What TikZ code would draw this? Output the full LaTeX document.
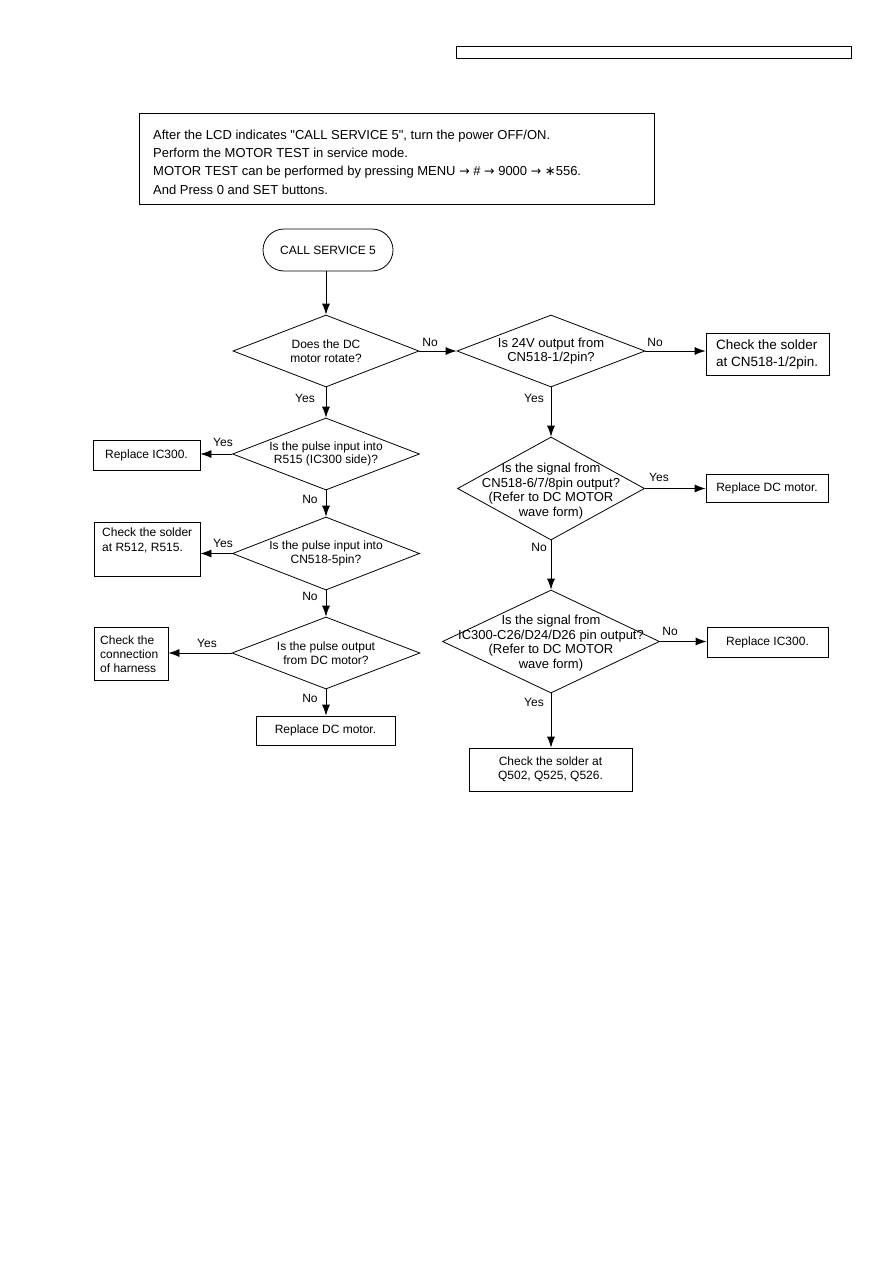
\documentclass[tikz,border=0pt]{standalone}
\usepackage{fontspec}
\setmainfont{Liberation Sans}
\newfontfamily\dejavu{DejaVu Sans}
\usetikzlibrary{shapes.geometric,arrows.meta}
\newcommand{\myarrow}{{\dejavu\fontsize{12.5}{13}\selectfont →}}
\begin{document}
\begin{tikzpicture}[x=1pt,y=-1pt,
  dia/.style={draw, diamond, inner sep=0pt, line width=0.8pt},
  box/.style={draw, rectangle, inner sep=0pt, line width=0.8pt},
  term/.style={draw, rectangle, rounded corners=21pt, inner sep=0pt, line width=0.8pt, minimum width=130pt, minimum height=42pt, font=\fontsize{12}{14}\selectfont},
  ftwelve/.style={font=\fontsize{12}{13.5}\selectfont, align=center, inner sep=0pt},
  fthirteen/.style={font=\fontsize{13}{14.5}\selectfont, align=center, inner sep=0pt},
  lbl/.style={font=\fontsize{12}{14}\selectfont, inner sep=0pt},
  info/.style={font=\fontsize{13}{18}\selectfont, inner sep=0pt, anchor=base west},
  arr/.style={-{Latex[length=11pt,width=8pt]}, line width=0.8pt}
]
\useasboundingbox (0,0) rectangle (893,1263);

% header bar
\node[box, minimum width=395pt, minimum height=12pt] (hdr) at (653.5,52) {};

% information box
\node[box, minimum width=515pt, minimum height=91pt] (infobox) at (396.5,158.5) {};
\node[info] (t1) at (153,139) {After the LCD indicates \textquotedbl CALL SERVICE 5\textquotedbl, turn the power OFF/ON.};
\node[info] (t2) at (153,157.3) {Perform the MOTOR TEST in service mode.};
\node[info] (t3) at (153,175.7) {MOTOR TEST can be performed by pressing MENU \myarrow{} \# \myarrow{} 9000 \myarrow{} {\dejavu ∗}556.};
\node[info] (t4) at (153,194) {And Press 0 and SET buttons.};

% start
\node[term] (start) at (328,250) {CALL SERVICE 5};

% left column
\node[dia, minimum width=186pt, minimum height=72pt] (d1) at (326,351) {};
\node[ftwelve] at (d1) {Does the DC\\motor rotate?};

\node[dia, minimum width=187pt, minimum height=72pt] (d5) at (326,454) {};
\node[ftwelve] at (d5) {Is the pulse input into\\R515 (IC300 side)?};

\node[dia, minimum width=187pt, minimum height=73pt] (d6) at (326,553.5) {};
\node[ftwelve] at (d6) {Is the pulse input into\\CN518-5pin?};

\node[dia, minimum width=188pt, minimum height=72pt] (d7) at (326,653) {};
\node[ftwelve] at (d7) {Is the pulse output\\from DC motor?};

\node[box, minimum width=107pt, minimum height=30pt, ftwelve] (ric2) at (146.5,455) {Replace IC300.};
\node[box, minimum width=106pt, minimum height=54pt] (cs2) at (147,549) {};
\node[ftwelve, align=left, anchor=north west, font=\fontsize{12}{15}\selectfont] at (102,528) {Check the solder\\at R512, R515.};
\node[box, minimum width=74pt, minimum height=53pt] (har) at (131,653.5) {};
\node[ftwelve, align=left, anchor=west, font=\fontsize{12}{14}\selectfont] at (100,654) {Check the\\connection\\of harness};
\node[box, minimum width=139pt, minimum height=29pt, ftwelve] (rdm2) at (325.5,730.5) {Replace DC motor.};

% right column
\node[dia, minimum width=188pt, minimum height=72pt] (d2) at (551,351) {};
\node[fthirteen] at (d2) {Is 24V output from\\CN518-1/2pin?};

\node[dia, minimum width=187pt, minimum height=103pt] (d3) at (551,488.5) {};
\node[fthirteen] at (551,491) {Is the signal from\\CN518-6/7/8pin output?\\(Refer to DC MOTOR\\wave form)};

\node[dia, minimum width=217pt, minimum height=103pt] (d4) at (551,641.5) {};
\node[fthirteen] at (551,643) {Is the signal from\\IC300-C26/D24/D26 pin output?\\(Refer to DC MOTOR\\wave form)};

\node[box, minimum width=123pt, minimum height=42pt] (cs1) at (767.5,354) {};
\node[ftwelve, align=left, anchor=west, font=\fontsize{13.5}{17}\selectfont] at (716,355) {Check the solder\\at CN518-1/2pin.};
\node[box, minimum width=122pt, minimum height=28pt, ftwelve] (rdm) at (767,488) {Replace DC motor.};
\node[box, minimum width=121pt, minimum height=30pt, ftwelve] (ric) at (767.5,642) {Replace IC300.};
\node[box, minimum width=163pt, minimum height=43pt, ftwelve] (q) at (550.5,769.5) {Check the solder at\\Q502, Q525, Q526.};

% connectors
\draw[arr] (d1.north |- start.south) -- (d1.north);
\draw[arr] (d1.east) -- (d2.west);
\draw[arr] (d2.east) -- (d2.east -| cs1.west);
\draw[arr] (d2.south) -- (d3.north);
\draw[arr] (d3.east) -- (d3.east -| rdm.west);
\draw[arr] (d3.south) -- (d4.north);
\draw[arr] (d4.east) -- (d4.east -| ric.west);
\draw[arr] (d4.south) -- (d4.south |- q.north);
\draw[arr] (d1.south) -- (d5.north);
\draw[arr] (d5.west) -- (d5.west -| ric2.east);
\draw[arr] (d5.south) -- (d6.north);
\draw[arr] (d6.west) -- (d6.west -| cs2.east);
\draw[arr] (d6.south) -- (d7.north);
\draw[arr] (d7.west) -- (d7.west -| har.east);
\draw[arr] (d7.south) -- (d7.south |- rdm2.north);

% labels
\node[lbl] (l1) at (430,342) {No};
\node[lbl] (l2) at (655,342) {No};
\node[lbl] (l3) at (305,398) {Yes};
\node[lbl] (l4) at (534,398) {Yes};
\node[lbl] (l5) at (223,442) {Yes};
\node[lbl] (l6) at (310,499) {No};
\node[lbl] (l7) at (223,543) {Yes};
\node[lbl] (l8) at (310,596) {No};
\node[lbl] (l9) at (207,643) {Yes};
\node[lbl] (l10) at (310,698) {No};
\node[lbl] (l11) at (659,477) {Yes};
\node[lbl] (l12) at (539,547) {No};
\node[lbl] (l13) at (670,631) {No};
\node[lbl] (l14) at (534,702) {Yes};
\end{tikzpicture}
\end{document}
